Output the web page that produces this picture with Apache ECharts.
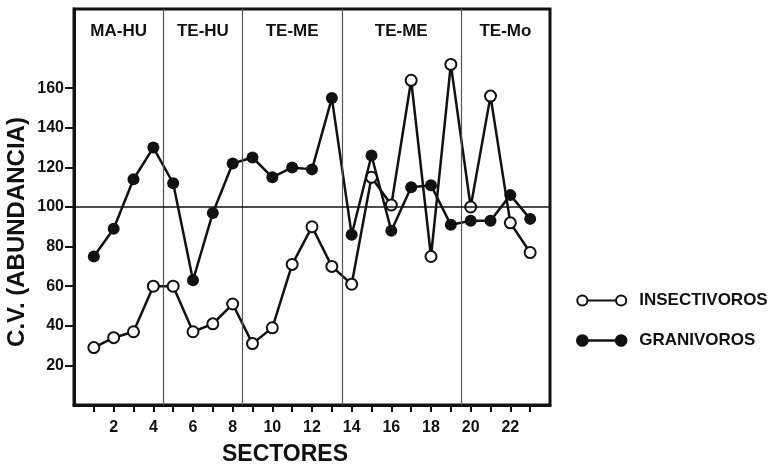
<!DOCTYPE html>
<html>
<head>
<meta charset="utf-8">
<script src="https://cdn.jsdelivr.net/npm/echarts@6/dist/echarts.min.js"></script>
<style>
  html, body { margin: 0; padding: 0; background: #fff; }
  #chart { width: 768px; height: 467px; }
</style>
</head>
<body>
<div id="chart"></div>
<script>
// Sectors sampled along the transect
const sectors = [1, 2, 3, 4, 5, 6, 7, 8, 9, 10, 11, 12, 13, 14, 15, 16, 17, 18, 19, 20, 21, 22, 23];

// Coefficient of variation of abundance per sector
const insectivoros = [29, 34, 37, 60, 60, 37, 41, 51, 31, 39, 71, 90, 70, 61, 115, 101, 164, 75, 172, 100, 156, 92, 77];
const granivoros   = [75, 89, 114, 130, 112, 63, 97, 122, 125, 115, 120, 119, 155, 86, 126, 88, 110, 111, 91, 93, 93, 106, 94];

// Habitat zones along the transect (boundaries in sector units)
const zoneNames  = ['MA-HU', 'TE-HU', 'TE-ME', 'TE-ME', 'TE-Mo'];
const zoneBounds = [0, 4.5, 8.5, 13.5, 19.5, 24];

// Axis ticks and labels
const xTickValues  = sectors;
const xLabelValues = [2, 4, 6, 8, 10, 12, 14, 16, 18, 20, 22];
const yTickValues  = [20, 40, 60, 80, 100, 120, 140, 160];
const referenceLevel = 100;

const FONT = "'Liberation Sans', Arial, Helvetica, sans-serif";
const INK = '#111';

const zoneAreas = zoneNames.map((name, i) => [
  { xAxis: zoneBounds[i], name: name },
  { xAxis: zoneBounds[i + 1] }
]);

const dividerLines = zoneBounds.slice(1, -1).map(v => ({
  xAxis: v,
  lineStyle: { color: '#555', width: 1.2, type: 'solid' }
}));

const chart = echarts.init(document.getElementById('chart'), null, { renderer: 'canvas' });

chart.setOption({
  animation: false,
  backgroundColor: '#fff',
  grid: {
    left: 74, right: 218, top: 9, bottom: 62,
    show: true, borderColor: INK, borderWidth: 3, backgroundColor: 'transparent'
  },
  xAxis: {
    type: 'value', min: 0, max: 24, interval: 1,
    splitLine: { show: false },
    axisLine: { show: true, onZero: false, lineStyle: { color: INK, width: 3 } },
    axisTick: { show: true, inside: false, length: 7, lineStyle: { color: INK, width: 2 }, customValues: xTickValues },
    axisLabel: {
      show: true, customValues: xLabelValues, margin: 15,
      color: INK, fontFamily: FONT, fontWeight: 'bold', fontSize: 16
    }
  },
  yAxis: {
    type: 'value', min: 0, max: 200, interval: 20,
    splitLine: { show: false },
    axisLine: { show: true, onZero: false, lineStyle: { color: INK, width: 3 } },
    axisTick: { show: true, inside: false, length: 9, lineStyle: { color: INK, width: 2 }, customValues: yTickValues },
    axisLabel: {
      show: true, customValues: yTickValues, margin: 10,
      color: INK, fontFamily: FONT, fontWeight: 'bold', fontSize: 16
    }
  },
  legend: {
    orient: 'vertical',
    left: 576, top: 292,
    padding: 0,
    itemWidth: 49, itemHeight: 11, itemGap: 23,
    selectedMode: false,
    textStyle: { color: INK, fontFamily: FONT, fontWeight: 'bold', fontSize: 17, padding: [0, 0, 0, 8] },
    data: [
      {
        name: 'INSECTIVOROS',
        icon: 'path://M1,6a5,5 0 1,0 10,0a5,5 0 1,0 -10,0zM11,6L39,6M39,6a5,5 0 1,0 10,0a5,5 0 1,0 -10,0z',
        itemStyle: { color: '#fff', borderColor: INK, borderWidth: 2 }
      },
      {
        name: 'GRANIVOROS',
        icon: 'path://M1,6a5,5 0 1,0 10,0a5,5 0 1,0 -10,0zM11,6L39,6M39,6a5,5 0 1,0 10,0a5,5 0 1,0 -10,0z',
        itemStyle: { color: INK, borderColor: INK, borderWidth: 2.5 }
      }
    ]
  },
  graphic: [
    {
      type: 'text', x: 17, y: 232, rotation: Math.PI / 2,
      style: {
        text: 'C.V. (ABUNDANCIA)', fill: INK, font: "bold 24px " + FONT,
        align: 'center', verticalAlign: 'middle'
      }
    },
    {
      type: 'text', x: 285, y: 455,
      style: {
        text: 'SECTORES', fill: INK, font: "bold 23px " + FONT,
        align: 'center', verticalAlign: 'middle'
      }
    }
  ],
  series: [
    {
      name: 'INSECTIVOROS',
      type: 'line',
      data: sectors.map((s, i) => [s, insectivoros[i]]),
      symbol: 'circle', symbolSize: 11,
      itemStyle: { color: '#fff', borderColor: INK, borderWidth: 2 },
      lineStyle: { color: INK, width: 2.5 },
      z: 3,
      markLine: {
        silent: true, symbol: 'none', label: { show: false },
        data: dividerLines.concat([{ yAxis: referenceLevel, lineStyle: { color: INK, width: 1.5, type: 'solid' } }])
      },
      markArea: {
        silent: true,
        itemStyle: { color: 'rgba(0,0,0,0)' },
        label: {
          show: true, position: 'insideTop', distance: 14,
          color: INK, fontFamily: FONT, fontWeight: 'bold', fontSize: 17
        },
        data: zoneAreas
      }
    },
    {
      name: 'GRANIVOROS',
      type: 'line',
      data: sectors.map((s, i) => [s, granivoros[i]]),
      symbol: 'circle', symbolSize: 12,
      itemStyle: { color: INK, borderColor: INK, borderWidth: 0 },
      lineStyle: { color: INK, width: 2.5 },
      z: 4
    }
  ]
});
</script>
</body>
</html>
